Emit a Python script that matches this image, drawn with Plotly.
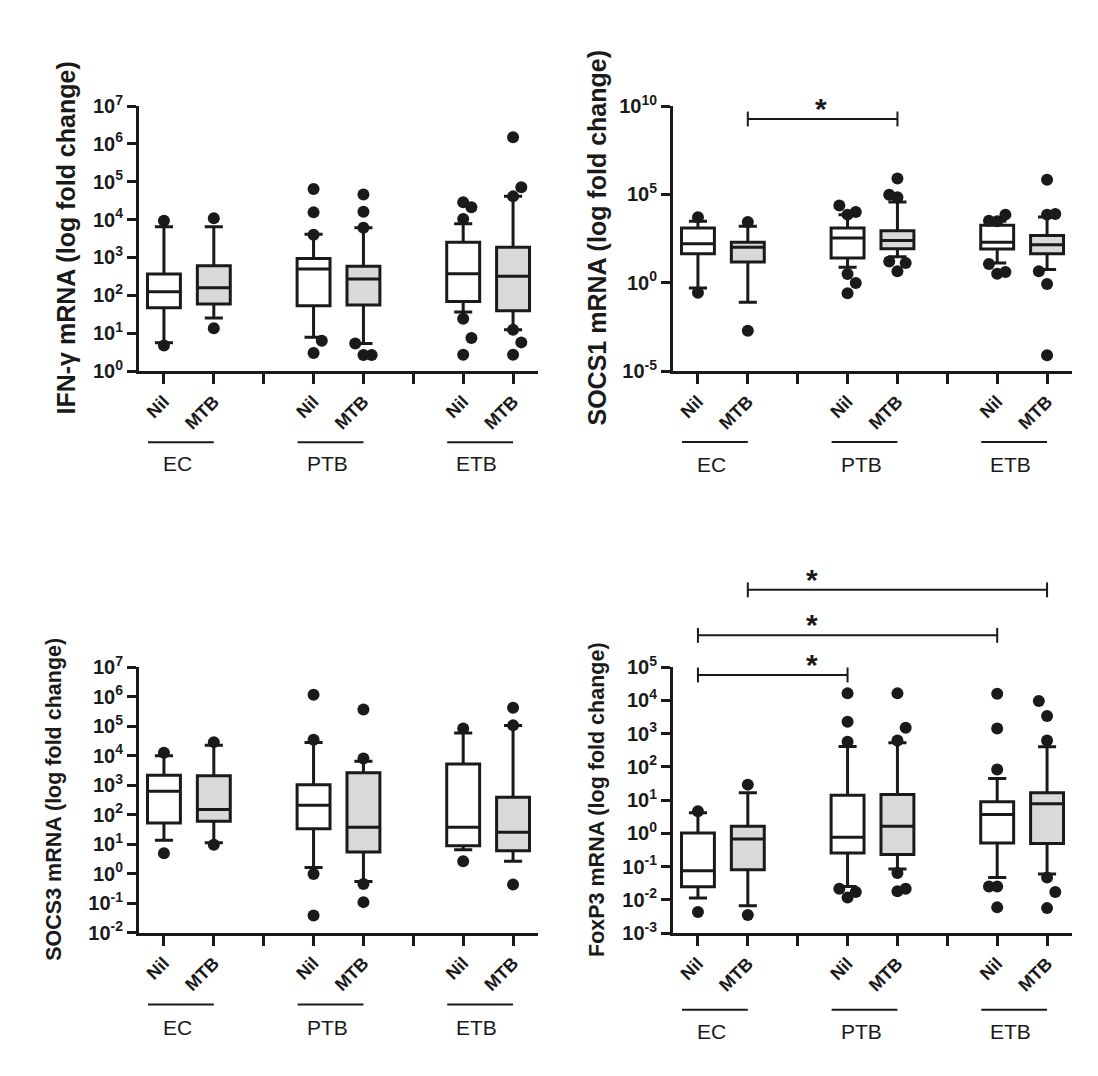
import plotly.graph_objects as go

# ---------------- data ----------------
groups = ["EC", "PTB", "ETB"]
stims = ["Nil", "MTB"]
tick_text = ["Nil", "MTB", "", "Nil", "MTB", "", "Nil", "MTB"]

# order of boxes: EC-Nil, EC-MTB, PTB-Nil, PTB-MTB, ETB-Nil, ETB-MTB
ifng_q1 = [47, 59, 53, 55, 69, 39]
ifng_med = [124, 158, 495, 269, 372, 317]
ifng_q3 = [365, 605, 930, 582, 2500, 1850]
ifng_lo = [5.6, 25, 7.8, 5.3, 36, 12.3]
ifng_hi = [6500, 6500, 4070, 6100, 7800, 41000]
ifng_pts = [
    [9300, 4.7],
    [10800, 13.4],
    [64000, 15500, 4000, 6.3, 3.0],
    [46000, 16000, 6100, 5.3, 2.65, 2.65],
    [28600, 21100, 10300, 24, 7.4, 2.7],
    [1.49e6, 71000, 41000, 12.3, 5.7, 2.7],
]
ifng_cols = [[0, 0], [0, 0], [0, 0, 0, 1, 0], [0, 0, 0, -1, 0, 1],
             [0, 1, 0, 0, 1, 0], [0, 1, 0, 0, 1, 0]]

socs1_q1 = [44, 14.8, 25, 83, 80, 44]
socs1_med = [162, 100, 340, 240, 193, 141]
socs1_q3 = [1240, 191, 1240, 880, 1780, 460]
socs1_lo = [0.50, 0.077, 7.4, 29.6, 13, 5.5]
socs1_hi = [2950, 1550, 7100, 37000, 2950, 5200]
socs1_pts = [
    [5000, 0.27],
    [2700, 0.0019],
    [23000, 10000, 7100, 3.1, 0.95, 0.25],
    [780000, 96000, 68000, 16, 13, 4.4],
    [3200, 2950, 7100, 11.5, 3.2, 4.0],
    [675000, 7100, 7800, 4.4, 0.84, 7.8e-5],
]
socs1_cols = [[0, 0], [0, 0], [-1, 1, 0, 0, 1, 0], [0, -1, 0, -1, 1, 0],
              [-1, 0, 1, -1, 0, 1], [0, 0, 1, -1, 0, 0]]

socs3_q1 = [52, 59, 33, 5.35, 8.8, 5.9]
socs3_med = [615, 147, 205, 37, 37, 25]
socs3_q3 = [2150, 2040, 1010, 2580, 5200, 385]
socs3_lo = [13.3, 11, 1.6, 0.54, 6.4, 2.6]
socs3_hi = [9750, 22400, 27700, 6430, 57400, 104000]
socs3_pts = [
    [12300, 4.9],
    [28400, 9.5],
    [1.15e6, 34000, 0.96, 0.038],
    [365000, 7900, 0.44, 0.107],
    [82600, 2.6],
    [416000, 105000, 0.42],
]
socs3_cols = [[0, 0], [0, 0], [0, 0, 0, 0], [0, 0, 0, 0], [0, 0], [0, 0, 0]]

foxp3_q1 = [0.0248, 0.080, 0.256, 0.228, 0.51, 0.49]
foxp3_med = [0.075, 0.67, 0.76, 1.63, 3.65, 7.65]
foxp3_q3 = [1.02, 1.63, 14, 14.6, 8.8, 16.4]
foxp3_lo = [0.0113, 0.0066, 0.025, 0.084, 0.047, 0.06]
foxp3_hi = [4.1, 16.4, 407, 526, 44, 400]
foxp3_pts = [
    [4.6, 0.0043],
    [29, 0.0035],
    [16100, 2250, 563, 0.0215, 0.0117, 0.017],
    [16100, 1490, 615, 0.064, 0.0179, 0.0215],
    [15700, 1420, 83, 0.025, 0.025, 0.0059],
    [9460, 3340, 615, 0.047, 0.017, 0.0056],
]
foxp3_cols = [[0, 0], [0, 0], [0, 0, 0, -1, 0, 1], [0, 1, 0, 0, 0, 1],
              [0, 0, 0, -1, 0, 0], [-1, 0, 0, 0, 1, 0]]

# significance comparisons (box index pairs)
socs1_sig = [(1, 3)]
foxp3_sig = [(1, 5), (0, 4), (0, 2)]

titles = ["IFN-γ mRNA (log fold change)", "SOCS1 mRNA (log fold change)",
          "SOCS3 mRNA (log fold change)", "FoxP3 mRNA (log fold change)"]
y_exps = [list(range(0, 8)), [-5, 0, 5, 10], list(range(-2, 8)), list(range(-3, 6))]

# ---------------- layout constants ----------------
W, H = 1098, 1076
FONT = "Liberation Sans, Arial, sans-serif"
box_x = [0.5, 1.5, 3.5, 4.5, 6.5, 7.5]
tick_x = [0.5, 1.5, 2.5, 3.5, 4.5, 5.5, 6.5, 7.5]
JIT = 0.165
panel_px = [(131, 530, 98, 363), (665, 1064, 98, 363),
            (131, 530, 659, 924.5), (665, 1064, 659, 925)]
title_x = [57, 588, 46, 589]
title_size = [25, 25, 21.5, 21.5]
line_y = [-0.269, -0.268, -0.271, -0.289]
label_y = [-0.348, -0.351, -0.357, -0.369]
sig_y = {1: [0.951], 3: [1.290, 1.119, 0.970]}
star_x = {1: [2.97], 3: [2.79, 2.79, 2.79]}
fills = ["white", "#d9d9d9"]

panels = [
    (ifng_q1, ifng_med, ifng_q3, ifng_lo, ifng_hi, ifng_pts, ifng_cols, []),
    (socs1_q1, socs1_med, socs1_q3, socs1_lo, socs1_hi, socs1_pts, socs1_cols, socs1_sig),
    (socs3_q1, socs3_med, socs3_q3, socs3_lo, socs3_hi, socs3_pts, socs3_cols, []),
    (foxp3_q1, foxp3_med, foxp3_q3, foxp3_lo, foxp3_hi, foxp3_pts, foxp3_cols, foxp3_sig),
]

fig = go.Figure()
annotations = []
shapes = []

for p, (q1, med, q3, lo, hi, pts, cols, sig) in enumerate(panels):
    n = p + 1
    xa = "x" if n == 1 else f"x{n}"
    ya = "y" if n == 1 else f"y{n}"
    for s in range(2):
        idx = [g * 2 + s for g in range(3)]
        fig.add_trace(go.Box(
            x=[box_x[i] for i in idx],
            q1=[q1[i] for i in idx], median=[med[i] for i in idx],
            q3=[q3[i] for i in idx], lowerfence=[lo[i] for i in idx],
            upperfence=[hi[i] for i in idx],
            width=0.66, whiskerwidth=0.55, boxpoints=False,
            fillcolor=fills[s], line=dict(color="#1a1a1a", width=3),
            xaxis=xa, yaxis=ya, showlegend=False, hoverinfo="skip"))
    px_, py_ = [], []
    for i in range(6):
        for v, c in zip(pts[i], cols[i]):
            px_.append(box_x[i] + c * JIT)
            py_.append(v)
    fig.add_trace(go.Scatter(x=px_, y=py_, mode="markers",
                             marker=dict(size=12, color="#1a1a1a"),
                             cliponaxis=False, xaxis=xa, yaxis=ya,
                             showlegend=False, hoverinfo="skip"))

    l, r, t, b = panel_px[p]
    exps = y_exps[p]
    fig.layout[("xaxis" if n == 1 else f"xaxis{n}")] = dict(
        domain=[l / W, r / W], range=[0, 8], anchor=ya, automargin=False,
        showline=True, linewidth=3, linecolor="#1a1a1a",
        ticks="outside", ticklen=10, tickwidth=3, tickcolor="#1a1a1a",
        tickmode="array", tickvals=tick_x, ticktext=tick_text,
        tickangle=-45, tickfont=dict(family=FONT, size=18, color="#1a1a1a", weight="bold"),
        showgrid=False, zeroline=False, fixedrange=True)
    fig.layout[("yaxis" if n == 1 else f"yaxis{n}")] = dict(
        domain=[1 - b / H, 1 - t / H], type="log", range=[exps[0], exps[-1]],
        anchor=xa, automargin=False, showline=True, linewidth=3, linecolor="#1a1a1a",
        ticks="outside", ticklen=9, tickwidth=3, tickcolor="#1a1a1a",
        tickmode="array", tickvals=[10.0 ** e for e in exps],
        ticktext=[f"10<sup>{e}</sup>" for e in exps],
        tickfont=dict(family=FONT, size=20, color="#1a1a1a", weight="bold"),
        showgrid=False, zeroline=False, fixedrange=True)

    # y title
    annotations.append(dict(text=titles[p], textangle=-90, xref="paper", yref="paper",
                            x=title_x[p] / W, y=1 - (t + b) / 2 / H,
                            xanchor="center", yanchor="middle", showarrow=False,
                            font=dict(family=FONT, size=title_size[p], color="#1a1a1a",
                                      weight="bold")))
    # group underline and labels
    for g, name in enumerate(groups):
        nil_x = box_x[g * 2]
        shapes.append(dict(type="line", xref=xa, yref=f"{ya} domain",
                           x0=nil_x - 0.32, x1=nil_x + 1.0, y0=line_y[p], y1=line_y[p],
                           line=dict(color="#1a1a1a", width=2)))
        annotations.append(dict(text=name, xref=xa, yref=f"{ya} domain",
                                x=nil_x + 0.27, y=label_y[p], xanchor="center",
                                yanchor="middle", showarrow=False,
                                font=dict(family=FONT, size=21, color="#1a1a1a")))
    # significance bars
    for k, (a, bb) in enumerate(sig):
        yv = sig_y[p][k]
        xa0, xa1 = box_x[a], box_x[bb]
        shapes.append(dict(type="line", xref=xa, yref=f"{ya} domain",
                           x0=xa0, x1=xa1, y0=yv, y1=yv,
                           line=dict(color="#1a1a1a", width=2)))
        for xe in (xa0, xa1):
            shapes.append(dict(type="line", xref=xa, yref=f"{ya} domain",
                               x0=xe, x1=xe, y0=yv - 0.028, y1=yv + 0.028,
                               line=dict(color="#1a1a1a", width=2)))
        annotations.append(dict(text="*", xref=xa, yref=f"{ya} domain",
                                x=star_x[p][k], y=yv, xanchor="center",
                                yanchor="bottom", yshift=-8, showarrow=False,
                                font=dict(family=FONT, size=30, color="#1a1a1a",
                                          weight="bold")))

fig.update_layout(width=W, height=H, autosize=False,
                  margin=dict(l=0, r=0, t=0, b=0, autoexpand=False),
                  paper_bgcolor="white", plot_bgcolor="white",
                  annotations=annotations, shapes=shapes,
                  font=dict(family=FONT, color="#1a1a1a"))
fig.write_html("out.html")
